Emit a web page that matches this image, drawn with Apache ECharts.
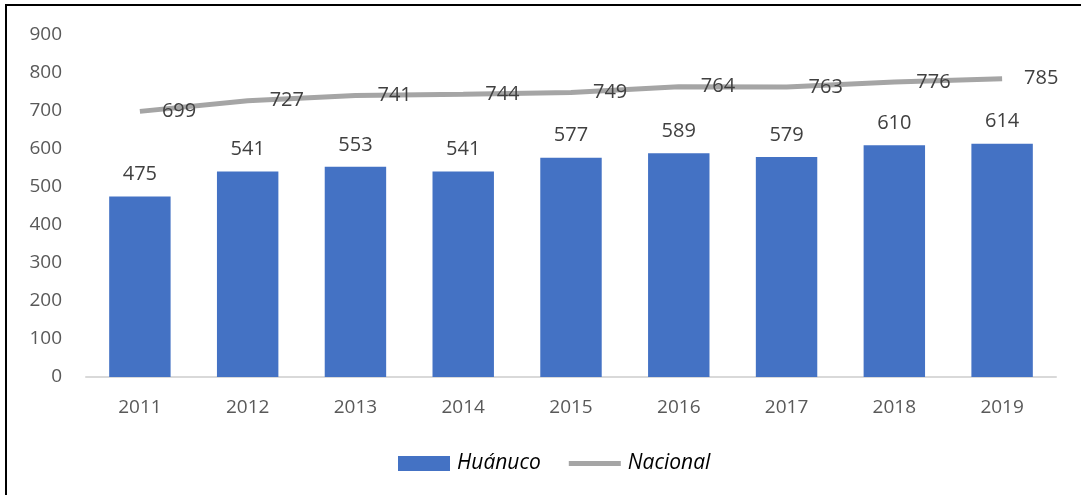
<!DOCTYPE html>
<html>
<head>
<meta charset="utf-8">
<script src="https://cdn.jsdelivr.net/npm/echarts@6/dist/echarts.min.js"></script>
<style>
  html, body { margin: 0; padding: 0; background: #fff; }
  #chart { width: 1081px; height: 495px; }
</style>
</head>
<body>
<div id="chart"></div>
<script>
var years = ['2011', '2012', '2013', '2014', '2015', '2016', '2017', '2018', '2019'];
var huanuco = [475, 541, 553, 541, 577, 589, 579, 610, 614];
var nacional = [699, 727, 741, 744, 749, 764, 763, 776, 785];

var myChart = echarts.init(document.getElementById('chart'));
var fontFam = '"Open Sans", "Noto Sans", sans-serif';

myChart.setOption({
  animation: false,
  textStyle: { fontFamily: fontFam },
  graphic: [{
    type: 'rect',
    shape: { x: 6, y: 5, width: 1090, height: 500 },
    style: { fill: 'none', stroke: '#000', lineWidth: 2 },
    silent: true
  }],
  grid: {
    left: 86,
    right: 25,
    top: 35,
    bottom: 118
  },
  legend: {
    bottom: 16,
    left: 393,
    itemGap: 28,
    itemWidth: 52,
    itemHeight: 15,
    textStyle: { fontSize: 21, fontStyle: 'italic', color: '#000', fontFamily: fontFam, padding: [0, 0, 0, 2] },
    data: [
      { name: 'Huánuco', icon: 'rect' },
      {
        name: 'Nacional',
        icon: 'path://M0,0 L52,0 L52,5 L0,5 Z',
        itemStyle: { color: '#A5A5A5', opacity: 1 }
      }
    ]
  },
  xAxis: {
    type: 'category',
    data: years,
    axisLine: { lineStyle: { color: '#d9d9d9', width: 2 } },
    axisTick: { show: false },
    axisLabel: { color: '#595959', fontSize: 19, margin: 21 }
  },
  yAxis: {
    type: 'value',
    min: 0,
    max: 900,
    interval: 100,
    splitLine: { show: false },
    axisLine: { show: false },
    axisTick: { show: false },
    axisLabel: { color: '#595959', fontSize: 19, margin: 24 }
  },
  series: [
    {
      name: 'Huánuco',
      type: 'bar',
      data: huanuco,
      barWidth: '57%',
      itemStyle: { color: '#4472C4' },
      label: {
        show: true,
        position: 'top',
        distance: 12,
        color: '#404040',
        fontSize: 20
      }
    },
    {
      name: 'Nacional',
      type: 'line',
      data: nacional,
      symbol: 'circle',
      symbolSize: 2,
      showSymbol: true,
      lineStyle: { color: '#A5A5A5', width: 5 },
      itemStyle: { color: 'rgba(165,165,165,0)' },
      labelLayout: { hideOverlap: false },
      label: {
        show: true,
        position: 'right',
        distance: 21,
        offset: [0, 5],
        color: '#404040',
        fontSize: 20
      }
    }
  ]
});
</script>
</body>
</html>
